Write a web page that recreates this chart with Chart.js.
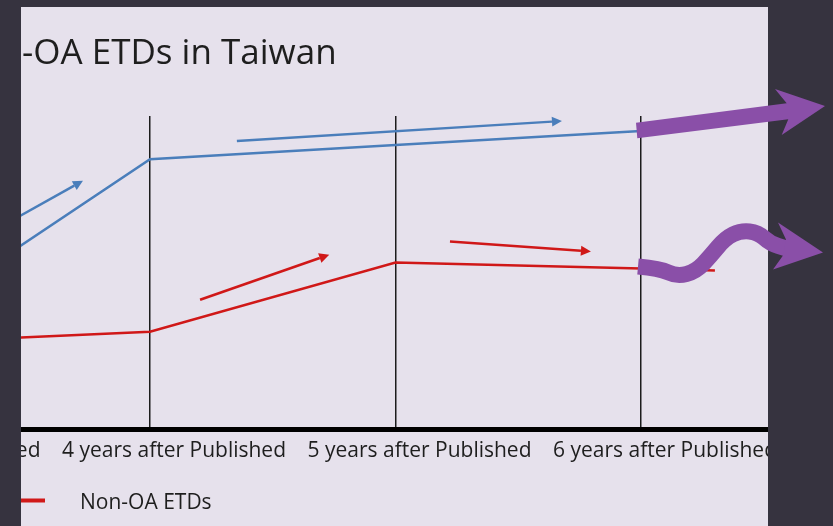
<!DOCTYPE html>
<html>
<head>
<meta charset="utf-8">
<script src="https://cdn.jsdelivr.net/npm/chart.js@4.4.1/dist/chart.umd.min.js"></script>
<style>
html, body { margin: 0; padding: 0; width: 833px; height: 526px; overflow: hidden; background: #36333f; }
#wrap { position: absolute; left: -300px; top: 0; width: 1300px; height: 526px; }
</style>
</head>
<body>
<div id="wrap"><canvas id="myChart"></canvas></div>
<script>
// values read per period after publication
var categories = ['3 years after Published', '4 years after Published', '5 years after Published', '6 years after Published']
var oaValues = [33.7, 86.2, 90.7, 95.2]
var nonOaValues = [27.6, 31.1, 53.2, 51.3]
var seriesLabels = ['OA ETDs', 'Non-OA ETDs']
var titleText = 'OA & Non-OA ETDs in Taiwan'

var BLUE = '#4a7ebb'
var RED = '#d01818'
var PURPLE = '#8a4fa8'
var SHIFT = 300          // canvas starts 300px left of the page
var panel = { left: 21, top: 7, right: 768, bottom: 526 }

// small trend arrows, in data space [x index, value]
var trendArrows = [
    { color: BLUE, from: [0.2, 56.2], to: [0.727, 79.3], head: true },
    { color: BLUE, from: [1.354, 92.0], to: [2.678, 98.4], head: true },
    { color: RED, from: [1.204, 41.3], to: [1.730, 55.7], head: true },
    { color: RED, from: [2.222, 59.9], to: [2.796, 56.7], head: true },
    { color: RED, from: [3.0, 51.3], to: [3.301, 50.6], head: false }
]

function toPoints(values) {
    return values.map(function (v, i) { return { x: i, y: v } })
}

var slidePlugin = {
    id: 'slide',
    beforeDraw: function (chart) {
        var ctx = chart.ctx
        ctx.save()
        ctx.fillStyle = '#36333f'
        ctx.fillRect(0, 0, chart.width, chart.height)
        ctx.fillStyle = '#e6e1ec'
        ctx.fillRect(panel.left + SHIFT, panel.top, panel.right - panel.left, panel.bottom - panel.top)
        ctx.beginPath()
        ctx.rect(panel.left + SHIFT, panel.top, panel.right - panel.left, panel.bottom - panel.top)
        ctx.clip()
    },
    afterDraw: function (chart) {
        var ctx = chart.ctx
        var xs = chart.scales.x, ys = chart.scales.y

        // trend arrows
        trendArrows.forEach(function (a) {
            var x1 = xs.getPixelForValue(a.from[0]), y1 = ys.getPixelForValue(a.from[1])
            var x2 = xs.getPixelForValue(a.to[0]), y2 = ys.getPixelForValue(a.to[1])
            var ang = Math.atan2(y2 - y1, x2 - x1)
            var hl = a.head ? 10 : 0
            ctx.strokeStyle = a.color
            ctx.fillStyle = a.color
            ctx.lineWidth = 2.5
            ctx.beginPath()
            ctx.moveTo(x1, y1)
            ctx.lineTo(x2 - hl * Math.cos(ang), y2 - hl * Math.sin(ang))
            ctx.stroke()
            if (a.head) {
                ctx.beginPath()
                ctx.moveTo(x2, y2)
                ctx.lineTo(x2 - hl * Math.cos(ang) + 5 * Math.sin(ang), y2 - hl * Math.sin(ang) - 5 * Math.cos(ang))
                ctx.lineTo(x2 - hl * Math.cos(ang) - 5 * Math.sin(ang), y2 - hl * Math.sin(ang) + 5 * Math.cos(ang))
                ctx.closePath()
                ctx.fill()
            }
        })

        // title
        ctx.fillStyle = '#1e1e1e'
        ctx.font = '35px "Open Sans"'
        ctx.textBaseline = 'alphabetic'
        ctx.textAlign = 'left'
        var pre = ctx.measureText('OA & Non').width
        ctx.fillText(titleText, SHIFT + 22 - pre, 64)

        // legend
        ctx.font = '21px "Open Sans"'
        chart.data.datasets.forEach(function (ds, i) {
            var x0 = SHIFT + 5 - (seriesLabels.length - 1 - i) * 220
            ctx.strokeStyle = ds.borderColor
            ctx.lineWidth = 4
            ctx.beginPath()
            ctx.moveTo(x0, 500.5)
            ctx.lineTo(x0 + 40, 500.5)
            ctx.stroke()
            ctx.fillStyle = '#1e1e1e'
            ctx.fillText(ds.label, x0 + 75, 509)
        })
        ctx.restore()

        // hand-drawn purple markers, anchored at the last data points
        var last = categories.length - 1
        var bx = xs.getPixelForValue(last), by = ys.getPixelForValue(oaValues[last])
        ctx.save()
        ctx.fillStyle = PURPLE
        ctx.beginPath()
        ;[[-5, -8.3], [145.7, -27.7], [134, -42], [184, -25], [140.7, 4], [147.3, -11.7], [-3.7, 7.3]].forEach(function (p, i) {
            if (i === 0) ctx.moveTo(bx + p[0], by + p[1])
            else ctx.lineTo(bx + p[0], by + p[1])
        })
        ctx.closePath()
        ctx.fill()

        var rx = xs.getPixelForValue(last), ry = ys.getPixelForValue(nonOaValues[last])
        var wave = [[-3, -2], [19, 0], [36, 8], [55, 3], [70, -13], [84, -30], [100, -38], [117, -36], [129, -25], [145, -20]]
        ctx.strokeStyle = PURPLE
        ctx.lineWidth = 16
        ctx.lineJoin = 'round'
        ctx.lineCap = 'butt'
        ctx.beginPath()
        ctx.moveTo(rx + wave[0][0], ry + wave[0][1])
        for (var i = 1; i < wave.length - 1; i++) {
            var mx = (wave[i][0] + wave[i + 1][0]) / 2, my = (wave[i][1] + wave[i + 1][1]) / 2
            ctx.quadraticCurveTo(rx + wave[i][0], ry + wave[i][1], rx + mx, ry + my)
        }
        ctx.lineTo(rx + wave[wave.length - 1][0], ry + wave[wave.length - 1][1])
        ctx.stroke()
        ctx.beginPath()
        ;[[145, -29], [137, -46], [182, -16], [132, 1], [142, -13]].forEach(function (p, i) {
            if (i === 0) ctx.moveTo(rx + p[0], ry + p[1])
            else ctx.lineTo(rx + p[0], ry + p[1])
        })
        ctx.closePath()
        ctx.fill()
        ctx.restore()
    }
}

var ctx = document.getElementById('myChart').getContext('2d');
var myChart = new Chart(ctx, {
    type: 'line',
    data: {
        datasets: [{
            label: seriesLabels[0],
            data: toPoints(oaValues),
            borderColor: BLUE,
            borderWidth: 2.5,
            pointRadius: 0,
            tension: 0
        }, {
            label: seriesLabels[1],
            data: toPoints(nonOaValues),
            borderColor: RED,
            borderWidth: 2.5,
            pointRadius: 0,
            tension: 0
        }]
    },
    options: {
        responsive: true,
        maintainAspectRatio: false,
        animation: false,
        layout: {
            padding: { left: 204.5, right: 211.7, top: 116, bottom: 0 }
        },
        plugins: {
            legend: { display: false },
            title: { display: false },
            tooltip: { enabled: false }
        },
        scales: {
            x: {
                type: 'linear',
                min: 0,
                max: 3.6,
                afterBuildTicks: function (axis) {
                    axis.ticks = categories.map(function (c, i) { return { value: i } })
                },
                afterFit: function (axis) {
                    axis.height = 97
                },
                grid: {
                    color: '#1c1c1c',
                    lineWidth: 1.5,
                    drawTicks: false
                },
                border: {
                    color: '#000',
                    width: 5
                },
                ticks: {
                    autoSkip: false,
                    maxRotation: 0,
                    padding: 9.5,
                    labelOffset: 24,
                    color: '#1e1e1e',
                    font: { family: '"Open Sans"', size: 21 },
                    callback: function (value) { return categories[value] }
                }
            },
            y: {
                display: false,
                min: 0,
                max: 100
            }
        }
    },
    plugins: [slidePlugin]
});
</script>
</body>
</html>
